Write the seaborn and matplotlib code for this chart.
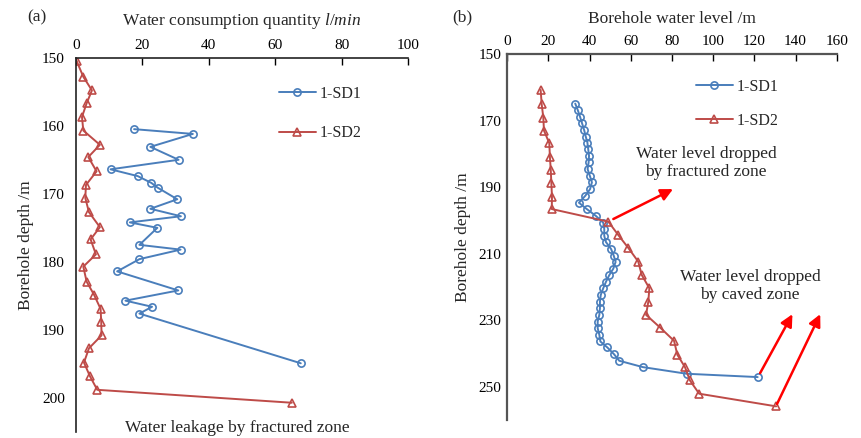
import matplotlib
matplotlib.use("Agg")
import matplotlib.pyplot as plt
import seaborn as sns
import pandas as pd

# ---------------- data: panel (a) ----------------
sd1_depth_a = [160.5, 161.2, 163.1, 165.0, 166.4, 167.4, 168.4, 169.1, 170.8, 172.2, 173.3,
               174.2, 175.0, 177.5, 178.2, 179.6, 181.4, 184.2, 185.7, 186.6, 187.6, 194.9]
sd1_flow_a = [17.5, 35.2, 22.4, 30.9, 10.4, 18.6, 22.7, 24.6, 30.5, 22.4, 31.6,
              16.2, 24.5, 19.1, 31.5, 19.1, 12.4, 30.8, 14.9, 22.9, 19.1, 67.7]
sd2_depth_a = [150.5, 152.8, 154.8, 156.7, 158.7, 160.7, 162.8, 164.6, 166.7, 168.7, 170.6,
               172.7, 174.9, 176.7, 178.9, 180.7, 182.9, 184.8, 186.9, 188.8, 190.8, 192.7,
               194.8, 196.8, 198.8, 200.7]
sd2_flow_a = [0.2, 2.2, 4.8, 3.2, 1.8, 2.2, 7.2, 3.7, 6.2, 3.0, 2.8,
              3.9, 7.2, 4.4, 6.0, 2.2, 3.2, 5.4, 7.4, 7.6, 7.7, 3.9,
              2.4, 4.2, 6.4, 65.0]

# ---------------- data: panel (b) ----------------
sd1_depth_b = [164.9, 166.8, 168.8, 170.8, 172.8, 174.8, 176.6, 178.6, 180.6, 182.6, 184.6,
               186.8, 188.6, 190.6, 192.6, 194.7, 196.6, 198.6, 200.7, 202.6, 204.7, 206.5,
               208.6, 210.6, 212.5, 214.5, 216.5, 218.5, 220.4, 222.4, 224.4, 226.4, 228.4,
               230.4, 232.4, 234.4, 236.4, 238.2, 240.2, 242.2, 244.1, 246.1, 247.1]
sd1_level_b = [33.0, 34.2, 35.3, 36.3, 37.3, 38.1, 38.9, 39.3, 39.7, 39.5, 39.0,
               40.2, 41.1, 40.2, 37.9, 34.8, 38.6, 42.9, 46.6, 47.1, 47.1, 47.9,
               50.4, 51.7, 52.6, 51.5, 49.5, 47.9, 46.6, 45.4, 45.0, 45.0, 44.7,
               43.9, 43.9, 44.7, 45.2, 48.6, 51.8, 54.4, 65.8, 87.1, 121.6]
sd2_depth_b = [160.8, 165.1, 169.1, 173.0, 176.8, 181.0, 184.8, 188.8, 192.9, 196.6, 200.4,
               204.4, 208.3, 212.4, 216.4, 220.4, 224.4, 228.4, 232.2, 236.2, 240.4, 244.1,
               248.1, 252.1, 255.9]
sd2_level_b = [16.2, 16.7, 17.5, 17.8, 20.4, 20.7, 21.1, 21.4, 21.7, 21.6, 49.1,
               53.9, 58.8, 63.6, 65.3, 69.0, 68.5, 67.4, 74.2, 81.0, 82.6, 86.3,
               88.7, 93.2, 130.6]

series_labels = ["1-SD1", "1-SD2"]
x_ticks_a = [0, 20, 40, 60, 80, 100]
y_ticks_a = [150, 160, 170, 180, 190, 200]
x_ticks_b = [0, 20, 40, 60, 80, 100, 120, 140, 160]
y_ticks_b = [150, 170, 190, 210, 230, 250]

BLUE = "#4A7EBB"
RED = "#BE4B48"

sns.set_theme(style="white")
plt.rcParams["font.family"] = ["Liberation Serif", "DejaVu Serif"]
plt.rcParams["mathtext.fontset"] = "custom"
plt.rcParams["mathtext.rm"] = "Liberation Serif"
plt.rcParams["mathtext.it"] = "Liberation Serif:italic"

fig = plt.figure(figsize=(8.62, 4.38), dpi=100)
W, H = 862, 438


def px_axes(x0, x1, ytop, ybot):
    return fig.add_axes([x0 / W, 1 - ybot / H, (x1 - x0) / W, (ybot - ytop) / H])


ax1 = px_axes(76, 408, 57.7, 432)
ax2 = px_axes(507.3, 836.7, 54, 420)

dfa1 = pd.DataFrame({"x": sd1_flow_a, "y": sd1_depth_a})
dfa2 = pd.DataFrame({"x": sd2_flow_a, "y": sd2_depth_a})
dfb1 = pd.DataFrame({"x": sd1_level_b, "y": sd1_depth_b})
dfb2 = pd.DataFrame({"x": sd2_level_b, "y": sd2_depth_b})

line_kw = dict(sort=False, estimator=None, linewidth=1.4, markersize=5.2,
               markerfacecolor="none", markeredgewidth=1.2)

for ax, d1, d2 in [(ax1, dfa1, dfa2), (ax2, dfb1, dfb2)]:
    sns.lineplot(data=d1, x="x", y="y", ax=ax, color=BLUE, marker="o",
                 markeredgecolor=BLUE, label=series_labels[0], **line_kw)
    sns.lineplot(data=d2, x="x", y="y", ax=ax, color=RED, marker="^",
                 markeredgecolor=RED, label=series_labels[1], **line_kw)

# ---- axes formatting (a)
ax1.set_xlim(0, 100)
ax1.set_ylim(205, 150)
ax1.set_xticks(x_ticks_a)
ax1.set_yticks(y_ticks_a)
ax1.xaxis.tick_top()
ax1.xaxis.set_label_position("top")
ax1.tick_params(axis="x", direction="in", length=5, width=1, labelsize=11, pad=4, colors="black")
ax1.tick_params(axis="y", direction="out", length=5, width=1, labelsize=11, pad=3, colors="black")
for s in ["right", "bottom"]:
    ax1.spines[s].set_visible(False)
for s in ["left", "top"]:
    ax1.spines[s].set_color("#222222")
    ax1.spines[s].set_linewidth(1.2)
ax1.set_xlabel(r"Water consumption quantity $\mathit{l/min}$", fontsize=12.5, labelpad=10.5)
ax1.set_ylabel("Borehole depth /m", fontsize=12.5, labelpad=6)

# ---- axes formatting (b)
ax2.set_xlim(0, 160)
ax2.set_ylim(260, 150)
ax2.set_xticks(x_ticks_b)
ax2.set_yticks(y_ticks_b)
ax2.xaxis.tick_top()
ax2.xaxis.set_label_position("top")
ax2.tick_params(axis="both", direction="in", length=5, width=1, labelsize=11, pad=4, colors="black")
for s in ["right", "bottom"]:
    ax2.spines[s].set_visible(False)
for s in ["left", "top"]:
    ax2.spines[s].set_color("#555555")
    ax2.spines[s].set_linewidth(1.6)
ax2.set_xlabel("Borehole water level /m", fontsize=12.5, labelpad=9)
ax2.set_ylabel("Borehole depth /m", fontsize=12.5, labelpad=6)

for ax in (ax1, ax2):
    ax.grid(False)
    ax.set_facecolor("white")

# ---- legends
ax1.legend(loc="upper left", bbox_to_anchor=(279 / W, 1 - 86 / H), bbox_transform=fig.transFigure,
           frameon=False, fontsize=11.5, handlelength=2.3, handletextpad=0.25,
           labelspacing=1.45, borderpad=0, borderaxespad=0)
ax2.legend(loc="upper left", bbox_to_anchor=(696 / W, 1 - 79 / H), bbox_transform=fig.transFigure,
           frameon=False, fontsize=11.5, handlelength=2.3, handletextpad=0.25,
           labelspacing=1.1, borderpad=0, borderaxespad=0)

# ---- panel letters
fig.text(37 / W, 1 - 17 / H, "(a)", fontsize=12.5, ha="center", va="center")
fig.text(462 / W, 1 - 17 / H, "(b)", fontsize=12.5, ha="center", va="center")

# ---- annotations
ax1.text(237 / W, 1 - 428 / H, "Water leakage by fractured zone", transform=fig.transFigure,
         fontsize=12.5, ha="center", va="center")

ax2.text(706 / W, 1 - 163 / H, "Water level dropped\nby fractured zone", transform=fig.transFigure,
         fontsize=12.5, ha="center", va="center", linespacing=1.15)
ax2.text(750 / W, 1 - 286 / H, "Water level dropped\nby caved zone", transform=fig.transFigure,
         fontsize=12.5, ha="center", va="center", linespacing=1.15)

arrow_kw = dict(arrowstyle="-|>,head_length=0.6,head_width=0.3", color="#FF0000", lw=1.8,
                shrinkA=0, shrinkB=0)
ax2.annotate("", xy=(80.5, 190.6), xytext=(51.5, 199.6), arrowprops=arrow_kw)
ax2.annotate("", xy=(138.5, 228.2), xytext=(122.8, 245.9), arrowprops=arrow_kw)
ax2.annotate("", xy=(152.0, 228.2), xytext=(131.0, 255.2), arrowprops=arrow_kw)

fig.savefig("out.png", dpi=100, facecolor="white")
